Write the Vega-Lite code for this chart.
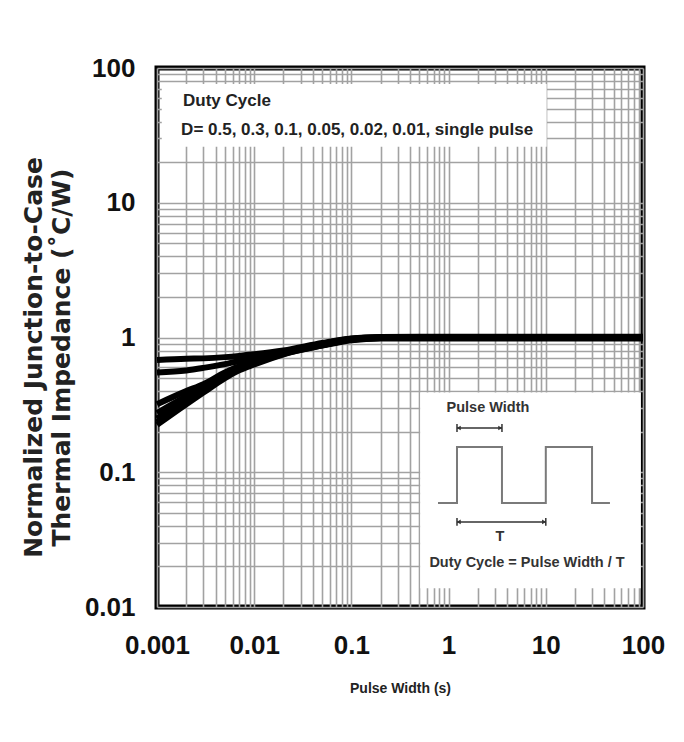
{
  "$schema": "https://vega.github.io/schema/vega-lite/v6.json",
  "width": 486,
  "height": 539,
  "autosize": {"type": "none"},
  "padding": {"left": 157, "top": 68, "right": 41, "bottom": 135},
  "background": "white",
  "config": {
    "view": {"stroke": "black", "strokeWidth": 5},
    "axis": {
      "grid": true, "gridColor": "#a2a2a2", "gridWidth": 1.6, "ticks": false, "domain": false,
      "labelFont": "Liberation Sans", "labelFontSize": 26, "labelFontWeight": "bold", "labelColor": "#111",
      "labelOverlap": false, "labelFlush": false,
      "titleColor": "#222"
    }
  },
  "datasets": {
    "curves": [
      {"D": "0.5", "x": 0.001, "y": 0.68}, {"D": "0.5", "x": 0.002, "y": 0.695}, {"D": "0.5", "x": 0.003, "y": 0.70}, {"D": "0.5", "x": 0.005, "y": 0.715}, {"D": "0.5", "x": 0.007, "y": 0.73}, {"D": "0.5", "x": 0.01, "y": 0.75}, {"D": "0.5", "x": 0.02, "y": 0.80}, {"D": "0.5", "x": 0.05, "y": 0.91}, {"D": "0.5", "x": 0.1, "y": 0.985}, {"D": "0.5", "x": 0.2, "y": 1.01}, {"D": "0.5", "x": 0.5, "y": 1.015}, {"D": "0.5", "x": 1, "y": 1.015}, {"D": "0.5", "x": 10, "y": 1.015}, {"D": "0.5", "x": 100, "y": 1.015},
      {"D": "0.3", "x": 0.001, "y": 0.55}, {"D": "0.3", "x": 0.002, "y": 0.57}, {"D": "0.3", "x": 0.003, "y": 0.595}, {"D": "0.3", "x": 0.005, "y": 0.635}, {"D": "0.3", "x": 0.007, "y": 0.67}, {"D": "0.3", "x": 0.01, "y": 0.70}, {"D": "0.3", "x": 0.02, "y": 0.785}, {"D": "0.3", "x": 0.05, "y": 0.90}, {"D": "0.3", "x": 0.1, "y": 0.98}, {"D": "0.3", "x": 0.2, "y": 1.005}, {"D": "0.3", "x": 0.5, "y": 1.01}, {"D": "0.3", "x": 1, "y": 1.01}, {"D": "0.3", "x": 10, "y": 1.01}, {"D": "0.3", "x": 100, "y": 1.01},
      {"D": "0.1", "x": 0.001, "y": 0.32}, {"D": "0.1", "x": 0.002, "y": 0.40}, {"D": "0.1", "x": 0.003, "y": 0.45}, {"D": "0.1", "x": 0.005, "y": 0.55}, {"D": "0.1", "x": 0.007, "y": 0.61}, {"D": "0.1", "x": 0.01, "y": 0.66}, {"D": "0.1", "x": 0.02, "y": 0.77}, {"D": "0.1", "x": 0.05, "y": 0.89}, {"D": "0.1", "x": 0.1, "y": 0.975}, {"D": "0.1", "x": 0.2, "y": 1.0}, {"D": "0.1", "x": 0.5, "y": 1.005}, {"D": "0.1", "x": 1, "y": 1.005}, {"D": "0.1", "x": 10, "y": 1.005}, {"D": "0.1", "x": 100, "y": 1.005},
      {"D": "0.05", "x": 0.001, "y": 0.275}, {"D": "0.05", "x": 0.002, "y": 0.365}, {"D": "0.05", "x": 0.003, "y": 0.425}, {"D": "0.05", "x": 0.005, "y": 0.53}, {"D": "0.05", "x": 0.007, "y": 0.595}, {"D": "0.05", "x": 0.01, "y": 0.65}, {"D": "0.05", "x": 0.02, "y": 0.765}, {"D": "0.05", "x": 0.05, "y": 0.885}, {"D": "0.05", "x": 0.1, "y": 0.97}, {"D": "0.05", "x": 0.2, "y": 0.995}, {"D": "0.05", "x": 0.5, "y": 1.0}, {"D": "0.05", "x": 1, "y": 1.0}, {"D": "0.05", "x": 10, "y": 1.0}, {"D": "0.05", "x": 100, "y": 1.0},
      {"D": "0.02", "x": 0.001, "y": 0.25}, {"D": "0.02", "x": 0.002, "y": 0.345}, {"D": "0.02", "x": 0.003, "y": 0.41}, {"D": "0.02", "x": 0.005, "y": 0.52}, {"D": "0.02", "x": 0.007, "y": 0.585}, {"D": "0.02", "x": 0.01, "y": 0.645}, {"D": "0.02", "x": 0.02, "y": 0.76}, {"D": "0.02", "x": 0.05, "y": 0.88}, {"D": "0.02", "x": 0.1, "y": 0.965}, {"D": "0.02", "x": 0.2, "y": 0.99}, {"D": "0.02", "x": 0.5, "y": 0.995}, {"D": "0.02", "x": 1, "y": 0.995}, {"D": "0.02", "x": 10, "y": 0.995}, {"D": "0.02", "x": 100, "y": 0.995},
      {"D": "0.01", "x": 0.001, "y": 0.235}, {"D": "0.01", "x": 0.002, "y": 0.33}, {"D": "0.01", "x": 0.003, "y": 0.40}, {"D": "0.01", "x": 0.005, "y": 0.51}, {"D": "0.01", "x": 0.007, "y": 0.58}, {"D": "0.01", "x": 0.01, "y": 0.64}, {"D": "0.01", "x": 0.02, "y": 0.755}, {"D": "0.01", "x": 0.05, "y": 0.875}, {"D": "0.01", "x": 0.1, "y": 0.96}, {"D": "0.01", "x": 0.2, "y": 0.99}, {"D": "0.01", "x": 0.5, "y": 0.99}, {"D": "0.01", "x": 1, "y": 0.99}, {"D": "0.01", "x": 10, "y": 0.99}, {"D": "0.01", "x": 100, "y": 0.99},
      {"D": "single", "x": 0.001, "y": 0.225}, {"D": "single", "x": 0.002, "y": 0.32}, {"D": "single", "x": 0.003, "y": 0.39}, {"D": "single", "x": 0.005, "y": 0.50}, {"D": "single", "x": 0.007, "y": 0.57}, {"D": "single", "x": 0.01, "y": 0.63}, {"D": "single", "x": 0.02, "y": 0.75}, {"D": "single", "x": 0.05, "y": 0.87}, {"D": "single", "x": 0.1, "y": 0.955}, {"D": "single", "x": 0.2, "y": 0.985}, {"D": "single", "x": 0.5, "y": 0.985}, {"D": "single", "x": 1, "y": 0.985}, {"D": "single", "x": 10, "y": 0.985}, {"D": "single", "x": 100, "y": 0.985}
    ],
    "boxes": [
      {"x": 0.00112, "x2": 10.2, "y": 26, "y2": 76},
      {"x": 0.51, "x2": 95, "y": 0.0138, "y2": 0.39}
    ],
    "wave": [
      {"i": 1, "x": 0.778, "y": 0.0592}, {"i": 2, "x": 1.22, "y": 0.0592}, {"i": 3, "x": 1.22, "y": 0.154}, {"i": 4, "x": 3.54, "y": 0.154}, {"i": 5, "x": 3.54, "y": 0.0592}, {"i": 6, "x": 10.0, "y": 0.0592}, {"i": 7, "x": 10.0, "y": 0.154}, {"i": 8, "x": 29.9, "y": 0.154}, {"i": 9, "x": 29.9, "y": 0.0592}, {"i": 10, "x": 45.7, "y": 0.0592}
    ],
    "arrows": [
      {"x": 1.22, "x2": 3.54, "y": 0.213},
      {"x": 1.22, "x2": 10.0, "y": 0.0428}
    ],
    "caps": [
      {"x": 1.22, "y": 0.199, "y2": 0.228},
      {"x": 3.54, "y": 0.199, "y2": 0.228},
      {"x": 1.22, "y": 0.040, "y2": 0.0458},
      {"x": 10.0, "y": 0.040, "y2": 0.0458}
    ],
    "heads": [
      {"x": 1.27, "y": 0.213, "dir": "triangle-left"},
      {"x": 3.40, "y": 0.213, "dir": "triangle-right"},
      {"x": 1.27, "y": 0.0428, "dir": "triangle-left"},
      {"x": 9.6, "y": 0.0428, "dir": "triangle-right"}
    ],
    "notesLeft": [
      {"x": 0.00185, "y": 56.9, "text": "Duty Cycle"},
      {"x": 0.00177, "y": 34.7, "text": "D= 0.5, 0.3, 0.1, 0.05, 0.02, 0.01, single  pulse"}
    ],
    "notesCenter": [
      {"x": 2.54, "y": 0.30, "text": "Pulse Width"},
      {"x": 3.38, "y": 0.033, "text": "T"},
      {"x": 6.41, "y": 0.0212, "text": "Duty Cycle = Pulse Width / T"}
    ]
  },
  "encoding": {
    "x": {
      "field": "x", "type": "quantitative",
      "scale": {"type": "log", "domain": [0.001, 100], "nice": false},
      "axis": {
        "values": [0.001,0.002,0.003,0.004,0.005,0.006,0.007,0.008,0.009,0.01,0.02,0.03,0.04,0.05,0.06,0.07,0.08,0.09,0.1,0.2,0.3,0.4,0.5,0.6,0.7,0.8,0.9,1,2,3,4,5,6,7,8,9,10,20,30,40,50,60,70,80,90,100],
        "labelExpr": "abs(log(datum.value)/LN10 - round(log(datum.value)/LN10)) < 0.000001 ? format(datum.value, '~g') : ''",
        "labelPadding": 25,
        "title": "Pulse Width (s)",
        "titleFont": "Liberation Sans", "titleFontSize": 14, "titleFontWeight": "bold", "titlePadding": 23
      }
    },
    "y": {
      "field": "y", "type": "quantitative",
      "scale": {"type": "log", "domain": [0.01, 100], "nice": false},
      "axis": {
        "values": [0.01,0.02,0.03,0.04,0.05,0.06,0.07,0.08,0.09,0.1,0.2,0.3,0.4,0.5,0.6,0.7,0.8,0.9,1,2,3,4,5,6,7,8,9,10,20,30,40,50,60,70,80,90,100],
        "labelExpr": "abs(log(datum.value)/LN10 - round(log(datum.value)/LN10)) < 0.000001 ? format(datum.value, '~g') : ''",
        "labelPadding": 22,
        "title": ["Normalized  Junction-to-Case", "Thermal Impedance (˚C/W)"],
        "titleFont": "DejaVu Sans", "titleFontSize": 25, "titleFontWeight": "bold", "titleLineHeight": 28,
        "titlePadding": 10, "titleY": 289
      }
    }
  },
  "layer": [
    {
      "data": {"name": "boxes"},
      "mark": {"type": "rect", "fill": "white", "stroke": null},
      "encoding": {"x2": {"field": "x2"}, "y2": {"field": "y2"}}
    },
    {
      "data": {"name": "curves"},
      "mark": {"type": "line", "color": "black", "strokeWidth": 6, "interpolate": "monotone"},
      "encoding": {"detail": {"field": "D"}}
    },
    {
      "data": {"name": "wave"},
      "mark": {"type": "line", "color": "#7a7a7a", "strokeWidth": 2},
      "encoding": {"order": {"field": "i"}}
    },
    {
      "data": {"name": "arrows"},
      "mark": {"type": "rule", "color": "#333", "strokeWidth": 1.5},
      "encoding": {"x2": {"field": "x2"}}
    },
    {
      "data": {"name": "caps"},
      "mark": {"type": "rule", "color": "#333", "strokeWidth": 1.5},
      "encoding": {"y2": {"field": "y2"}}
    },
    {
      "data": {"name": "heads"},
      "mark": {"type": "point", "filled": true, "color": "#333", "size": 22, "opacity": 1},
      "encoding": {"shape": {"field": "dir", "type": "nominal", "scale": null}}
    },
    {
      "data": {"name": "notesLeft"},
      "mark": {"type": "text", "align": "left", "baseline": "middle", "font": "Liberation Sans", "fontSize": 17, "fontWeight": "bold", "color": "#222"},
      "encoding": {"text": {"field": "text"}}
    },
    {
      "data": {"name": "notesCenter"},
      "mark": {"type": "text", "align": "center", "baseline": "middle", "font": "Liberation Sans", "fontSize": 14.5, "fontWeight": "bold", "color": "#333"},
      "encoding": {"text": {"field": "text"}}
    }
  ]
}
